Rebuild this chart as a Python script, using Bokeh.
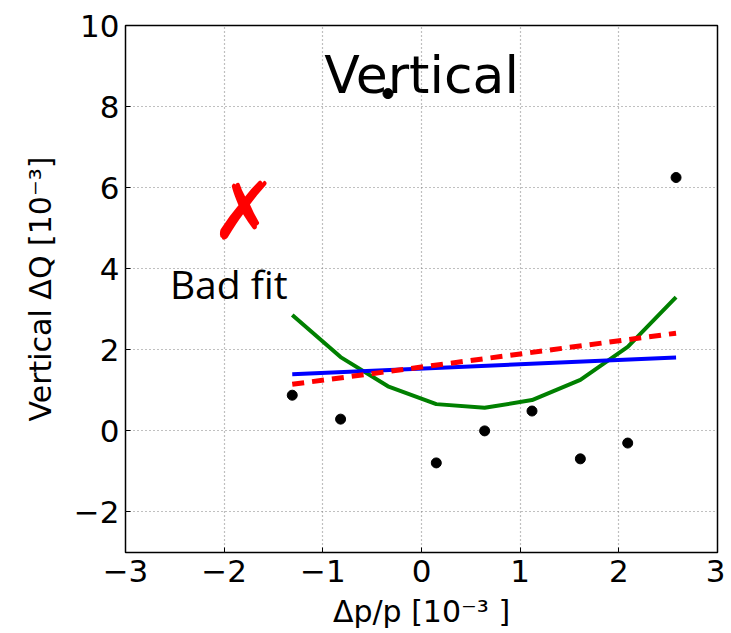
from bokeh.plotting import figure
from bokeh.models import FixedTicker
from bokeh.core.properties import value
from bokeh.embed import file_html
from bokeh.resources import INLINE

# Data
dp = [-1.31, -0.82, -0.34, 0.15, 0.64, 1.12, 1.61, 2.09, 2.58]
dq = [0.88, 0.29, 8.32, -0.79, 0.0, 0.49, -0.69, -0.30, 6.25]
quad_fit = [2.86, 1.82, 1.10, 0.66, 0.57, 0.76, 1.26, 2.07, 3.30]
lin_x = [-1.31, 2.58]
lin_blue = [1.40, 1.81]
lin_red = [1.15, 2.41]

x_ticks = [-3, -2, -1, 0, 1, 2, 3]
y_ticks = [-2, 0, 2, 4, 6, 8, 10]

title_text = "Vertical"
title_pos = (0.0, 8.78)
cross_text = "\u2717"
cross_pos = (-1.80, 5.41)
note_text = "Bad fit"
note_pos = (-2.55, 3.64)

p = figure(width=725, height=633, x_range=(-3, 3), y_range=(-3, 10),
           output_backend="svg", toolbar_location=None,
           min_border_left=125, min_border_right=8,
           min_border_top=25, min_border_bottom=81)

p.outline_line_color = "black"
p.outline_line_width = 1.5
p.background_fill_color = "white"

# grids
for g in (p.xgrid, p.ygrid):
    g.grid_line_color = "#808080"
    g.grid_line_dash = "1 3"
    g.grid_line_width = 1.2
p.xgrid.ticker = FixedTicker(ticks=x_ticks)
p.ygrid.ticker = FixedTicker(ticks=y_ticks)

p.xaxis.ticker = FixedTicker(ticks=x_ticks)
p.yaxis.ticker = FixedTicker(ticks=y_ticks)
p.xaxis.major_label_overrides = {t: str(t).replace("-", "\u2212") for t in x_ticks}
p.yaxis.major_label_overrides = {t: str(t).replace("-", "\u2212") for t in y_ticks}

for ax in (p.xaxis, p.yaxis):
    ax.axis_line_color = None
    ax.major_tick_in = 5
    ax.major_tick_out = 0
    ax.minor_tick_line_color = None
    ax.major_tick_line_color = "black"
    ax.major_label_text_font = "DejaVu Sans"
    ax.major_label_text_font_size = "31px"
    ax.major_label_text_color = "black"
    ax.axis_label_text_font = "DejaVu Sans"
    ax.axis_label_text_font_size = "30px"
    ax.axis_label_text_font_style = "normal"
    ax.axis_label_text_color = "black"

p.xaxis.axis_label = "\u0394p/p [10\u207b\u00b3 ]"
p.yaxis.axis_label = "Vertical \u0394Q [10\u207b\u00b3]"
p.xaxis.major_label_standoff = 7
p.yaxis.major_label_standoff = 6
p.xaxis.axis_label_standoff = 9
p.yaxis.axis_label_standoff = 13

# data
p.line(dp, quad_fit, line_color="green", line_width=4)
p.line(lin_x, lin_blue, line_color="blue", line_width=4)
p.line(lin_x, lin_red, line_color="red", line_width=5, line_dash="12 8")
p.scatter(dp, dq, size=10, color="black")

# annotations
p.text(x=[title_pos[0]], y=[title_pos[1]], text=[title_text],
       text_font=value("DejaVu Sans"), text_font_size="52px",
       text_align="center", text_baseline="alphabetic", text_color="black")
p.text(x=[cross_pos[0]], y=[cross_pos[1]], text=[cross_text],
       text_font=value("DejaVu Sans"), text_font_size="80px",
       text_align="center", text_baseline="middle", text_color="red")
p.text(x=[note_pos[0]], y=[note_pos[1]], text=[note_text],
       text_font=value("Open Sans"), text_font_size="39px",
       text_align="left", text_baseline="alphabetic", text_color="black")

open("out.html", "w").write(file_html(p, INLINE))
